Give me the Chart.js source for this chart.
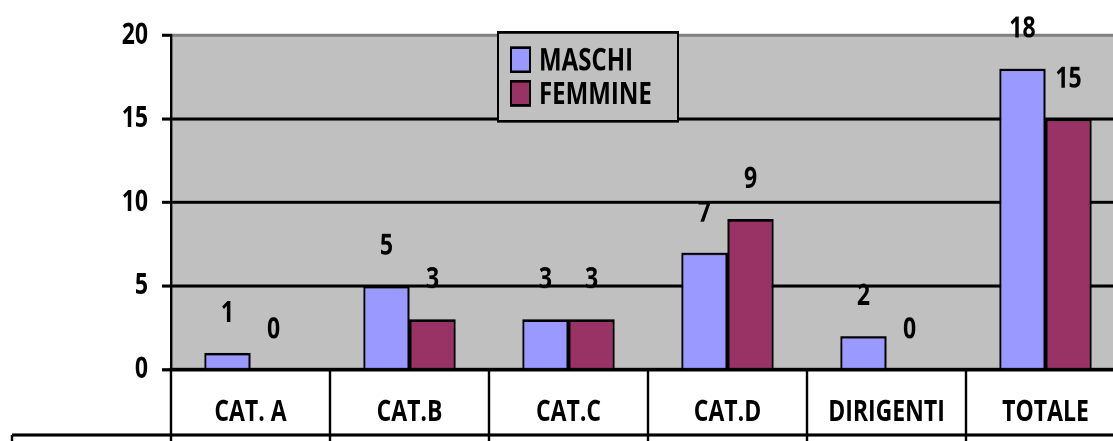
<!DOCTYPE html>
<html>
<head>
<meta charset="utf-8">
<script src="https://cdn.jsdelivr.net/npm/chart.js@4/dist/chart.umd.min.js"></script>
<style>
  html, body { margin: 0; padding: 0; background: #fff; overflow: hidden; }
  #wrap { width: 1113px; height: 441px; overflow: hidden; position: relative; }
  /* il grafico originale è stirato in verticale */
  #chart { transform: scaleY(1.27); transform-origin: 0 0; display: block; }
</style>
</head>
<body>
<div id="wrap"><canvas id="chart" width="1130" height="347"></canvas></div>
<script>
// dati
const categories = ['CAT. A', 'CAT.B', 'CAT.C', 'CAT.D', 'DIRIGENTI', 'TOTALE'];
const maschi = [1, 5, 3, 7, 2, 18];
const femmine = [0, 3, 3, 9, 0, 15];
const seriesNames = ['MASCHI', 'FEMMINE'];
const yMax = 20;
const yStep = 5;

const FONT = '"Open Sans"';

// sfondo grigio dell'area del grafico
const plotBg = {
    id: 'plotBg',
    beforeDraw(chart) {
        const { ctx, chartArea: a } = chart;
        ctx.save();
        ctx.fillStyle = '#C0C0C0';
        ctx.fillRect(a.left, a.top, a.right - a.left, a.bottom - a.top);
        ctx.restore();
    }
};

// griglia della tabella sotto l'asse x
const tableGrid = {
    id: 'tableGrid',
    afterDraw(chart) {
        const { ctx, chartArea: a } = chart;
        const x = chart.scales.x;
        const n = categories.length;
        const half = (x.getPixelForValue(1) - x.getPixelForValue(0)) / 2;
        const H = chart.height;
        ctx.save();
        ctx.strokeStyle = '#000';
        ctx.lineWidth = 2.4;
        ctx.beginPath();
        for (let i = 0; i <= n; i++) {
            const px = i < n ? x.getPixelForValue(i) - half : x.getPixelForValue(n - 1) + half;
            ctx.moveTo(px, a.bottom);
            ctx.lineTo(px, H);
        }
        ctx.moveTo(12, 342.5);
        ctx.lineTo(chart.width, 342.5);
        ctx.moveTo(12, 342.5);
        ctx.lineTo(12, H);
        ctx.stroke();
        ctx.restore();
    }
};

// etichette dei valori sopra le barre
const valueLabels = {
    id: 'valueLabels',
    afterDatasetsDraw(chart) {
        const { ctx } = chart;
        ctx.save();
        ctx.font = 'bold 23px ' + FONT;
        ctx.fillStyle = '#000';
        ctx.textAlign = 'center';
        ctx.textBaseline = 'middle';
        chart.data.datasets.forEach((ds, di) => {
            chart.getDatasetMeta(di).data.forEach((bar, i) => {
                ctx.fillText(String(ds.data[i]), bar.x, bar.y - 31);
            });
        });
        ctx.restore();
    }
};

// legenda con riquadro, come in Excel
const boxLegend = {
    id: 'boxLegend',
    afterDraw(chart) {
        const { ctx } = chart;
        const bx = 498, by = 25.5, bw = 180, bh = 70;
        ctx.save();
        ctx.fillStyle = '#C0C0C0';
        ctx.fillRect(bx, by, bw, bh);
        ctx.strokeStyle = '#000';
        ctx.lineWidth = 2;
        ctx.strokeRect(bx, by, bw, bh);
        ctx.font = 'bold 24px ' + FONT;
        ctx.textBaseline = 'middle';
        chart.data.datasets.forEach((ds, i) => {
            const cy = 47.5 + i * 26.5;
            ctx.fillStyle = ds.backgroundColor;
            ctx.fillRect(511, cy - 10, 19, 19);
            ctx.strokeRect(511, cy - 10, 19, 19);
            ctx.fillStyle = '#000';
            ctx.fillText(ds.label, 539, cy + 1);
        });
        ctx.restore();
    }
};

new Chart(document.getElementById('chart'), {
    type: 'bar',
    data: {
        labels: categories,
        datasets: [
            {
                label: seriesNames[0],
                data: maschi,
                backgroundColor: '#9999FF',
                borderColor: '#000',
                borderWidth: 2
            },
            {
                label: seriesNames[1],
                data: femmine,
                backgroundColor: '#993366',
                borderColor: '#000',
                borderWidth: 2
            }
        ]
    },
    options: {
        responsive: false,
        animation: false,
        devicePixelRatio: 2,
        layout: { padding: { top: 25.5, right: 5, left: 0, bottom: 0 } },
        categoryPercentage: 0.58,
        barPercentage: 1,
        plugins: {
            legend: { display: false },
            tooltip: { enabled: false }
        },
        scales: {
            x: {
                grid: { display: false },
                border: { display: true, color: '#000', width: 3 },
                ticks: {
                    color: '#000',
                    padding: 12,
                    font: { family: FONT, size: 23, weight: 'bold' }
                },
                afterFit(scale) { scale.height = 56; }
            },
            y: {
                min: 0,
                max: yMax,
                ticks: {
                    stepSize: yStep,
                    color: '#000',
                    padding: 14,
                    font: { family: FONT, size: 23, weight: 'bold' }
                },
                grid: {
                    color: c => (c.tick && c.tick.value === yMax) ? '#808080' : '#000',
                    tickColor: '#000',
                    lineWidth: 2.4,
                    tickLength: 9
                },
                border: { display: true, color: '#000', width: 2.4 },
                afterFit(scale) { scale.width = 171; }
            }
        }
    },
    plugins: [plotBg, valueLabels, tableGrid, boxLegend]
});
</script>
</body>
</html>
